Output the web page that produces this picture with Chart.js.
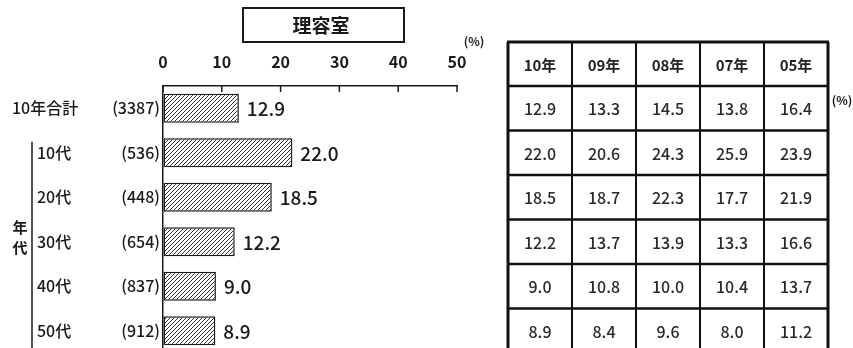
<!DOCTYPE html>
<html><head><meta charset="utf-8">
<script src="https://cdn.jsdelivr.net/npm/chart.js@4/dist/chart.umd.min.js"></script>
<style>
html,body{margin:0;padding:0;background:#fff;overflow:hidden;width:853px;height:348px}
#wrap{position:relative;width:853px;height:348px;overflow:hidden;background:#fff}
canvas{position:absolute;left:0;top:0}
</style></head><body>
<div id="wrap"><canvas id="c" width="853" height="353"></canvas></div>
<script>
// ---- data ----
const chartTitle = '理容室';
const categories = ['10年合計', '10代', '20代', '30代', '40代', '50代'];
const sampleSizes = ['(3387)', '(536)', '(448)', '(654)', '(837)', '(912)'];
const barValues = [12.9, 22.0, 18.5, 12.2, 9.0, 8.9];
const xTicks = [0, 10, 20, 30, 40, 50];
const groupLabel = ['年', '代'];
const unitLabel = '(%)';
const tableYears = ['10年', '09年', '08年', '07年', '05年'];
const year10 = [12.9, 22.0, 18.5, 12.2, 9.0, 8.9];
const year09 = [13.3, 20.6, 18.7, 13.7, 10.8, 8.4];
const year08 = [14.5, 24.3, 22.3, 13.9, 10.0, 9.6];
const year07 = [13.8, 25.9, 17.7, 13.3, 10.4, 8.0];
const year05 = [16.4, 23.9, 21.9, 16.6, 13.7, 11.2];
const tableColumns = [year10, year09, year08, year07, year05];

// ---- styling ----
const FONT = '"Noto Sans CJK JP", "Noto Sans", sans-serif';
const INK = '#1a1a1a';

const canvas = document.getElementById('c');
const ctx0 = canvas.getContext('2d');
const T = 4;
const tile = document.createElement('canvas');
tile.width = T; tile.height = T;
(function () {
  const g = tile.getContext('2d');
  g.fillStyle = '#fff'; g.fillRect(0, 0, T, T);
  g.strokeStyle = '#2e2e2e'; g.lineWidth = 1;
  g.beginPath();
  g.moveTo(0, T); g.lineTo(T, 0);
  g.moveTo(-1, 1); g.lineTo(1, -1);
  g.moveTo(T - 1, T + 1); g.lineTo(T + 1, T - 1);
  g.stroke();
})();
const hatch = ctx0.createPattern(tile, 'repeat');

const overlay = {
  id: 'overlay',
  afterDraw(chart) {
    const { ctx, chartArea: a, scales: { x, y } } = chart;
    ctx.save();
    // inner tick marks
    ctx.strokeStyle = INK; ctx.lineWidth = 1.5;
    x.ticks.forEach(t => {
      const px = x.getPixelForValue(t.value);
      ctx.beginPath(); ctx.moveTo(px, a.top); ctx.lineTo(px, a.top + 6); ctx.stroke();
    });
    // title box
    ctx.lineWidth = 2;
    ctx.strokeRect(243, 8, 161, 34);
    ctx.fillStyle = INK;
    ctx.font = 'bold 19px ' + FONT;
    ctx.textAlign = 'center'; ctx.textBaseline = 'middle';
    ctx.fillText(chartTitle, 321, 26);
    // unit labels
    ctx.font = 'bold 12px ' + FONT;
    ctx.fillText(unitLabel, 474, 41);
    ctx.fillText(unitLabel, 842, 100);
    // row labels
    categories.forEach((c, i) => {
      const py = y.getPixelForValue(i);
      ctx.textAlign = 'left';
      ctx.font = '500 16px ' + FONT;
      ctx.fillText(c, i === 0 ? 12 : 37, py);
      ctx.textAlign = 'right';
      ctx.font = '500 16px ' + FONT;
      ctx.fillText(sampleSizes[i], 160, py);
    });
    // group bracket and label
    ctx.lineWidth = 1.5;
    const gTop = y.getPixelForValue(1) - 11;
    ctx.beginPath(); ctx.moveTo(32, gTop); ctx.lineTo(32, chart.height); ctx.stroke();
    ctx.font = 'bold 15px ' + FONT; ctx.textAlign = 'center';
    ctx.fillText(groupLabel[0], 20, 227);
    ctx.fillText(groupLabel[1], 20, 247);
    // value labels
    ctx.textAlign = 'left';
    ctx.font = '500 19px ' + FONT;
    barValues.forEach((v, i) => {
      ctx.fillText(v.toFixed(1), x.getPixelForValue(v) + 8, y.getPixelForValue(i) + 1);
    });
    // table
    const left = 508, colW = 64, n = tableYears.length;
    const right = left + colW * n;
    const step = y.getPixelForValue(1) - y.getPixelForValue(0);
    const headTop = 42, headBot = a.top;
    const rowEdges = [headTop, headBot];
    categories.forEach((c, i) => rowEdges.push(y.getPixelForValue(i) + step / 2));
    ctx.strokeStyle = '#111';
    rowEdges.forEach((ry, k) => {
      ctx.lineWidth = k === 0 ? 3 : 2.5;
      ctx.beginPath(); ctx.moveTo(left - 1, ry); ctx.lineTo(right + 1, ry); ctx.stroke();
    });
    for (let j = 0; j <= n; j++) {
      ctx.lineWidth = (j === 0 || j === n) ? 3 : 2;
      const cx = left + j * colW;
      ctx.beginPath(); ctx.moveTo(cx, headTop); ctx.lineTo(cx, chart.height + 5); ctx.stroke();
    }
    ctx.textAlign = 'center';
    ctx.font = '600 15px ' + FONT; ctx.fillStyle = '#222';
    tableYears.forEach((yr, j) => ctx.fillText(yr, left + colW * (j + 0.5), (headTop + headBot) / 2 + 1));
    ctx.font = '500 16px ' + FONT; ctx.fillStyle = '#2a2a2a';
    tableColumns.forEach((col, j) => {
      col.forEach((v, i) => {
        ctx.fillText(v.toFixed(1), left + colW * (j + 0.5), y.getPixelForValue(i) + 1);
      });
    });
    ctx.restore();
  }
};

new Chart(canvas, {
  type: 'bar',
  data: {
    labels: categories,
    datasets: [{
      data: barValues,
      backgroundColor: hatch,
      borderColor: INK,
      borderWidth: 1.5,
      borderSkipped: false,
      barPercentage: 0.65,
      categoryPercentage: 1
    }]
  },
  options: {
    indexAxis: 'y',
    responsive: false,
    animation: false,
    devicePixelRatio: 1,
    layout: { padding: { left: 0, right: 396, top: 0, bottom: 0 } },
    plugins: { legend: { display: false }, tooltip: { enabled: false }, title: { display: false } },
    scales: {
      x: {
        position: 'top', min: 0, max: 50,
        afterBuildTicks: s => { s.ticks = xTicks.map(v => ({ value: v })); },
        afterFit: s => { s.height = 86; },
        grid: { display: true, drawOnChartArea: false, drawTicks: false },
        border: { display: true, color: INK, width: 1.5 },
        ticks: { padding: 14, color: INK, font: { family: FONT, size: 16, weight: '600' }, maxRotation: 0 }
      },
      y: {
        afterFit: s => { s.width = 163; },
        grid: { display: true, drawOnChartArea: false, drawTicks: false },
        border: { display: true, color: INK, width: 1.5 },
        ticks: { display: false }
      }
    }
  },
  plugins: [overlay]
});
</script>
</body></html>
